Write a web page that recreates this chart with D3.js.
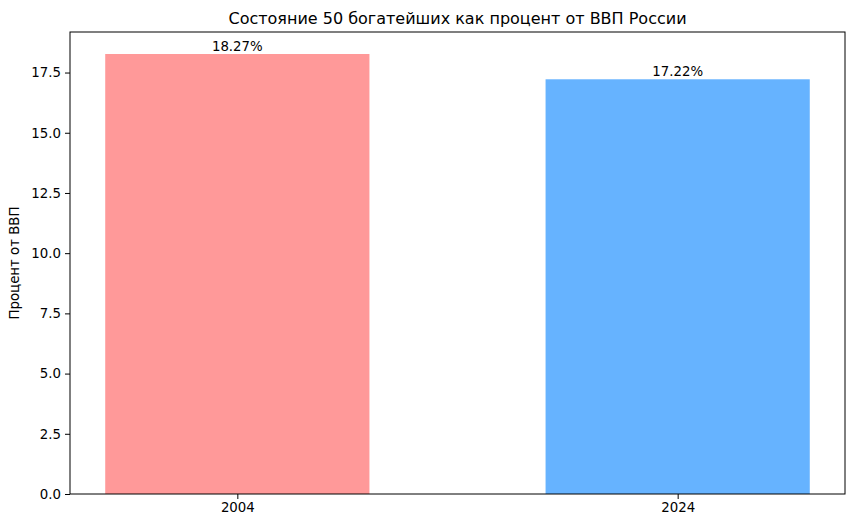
<!DOCTYPE html>
<html><head><meta charset="utf-8">
<script src="https://cdn.jsdelivr.net/npm/d3@7"></script>
<style>body{margin:0;background:#fff}text{font-family:"DejaVu Sans",sans-serif}</style>
</head><body>
<svg id="c" width="855" height="528"></svg>
<script>
const categories = ["2004", "2024"];
const values = [18.27, 17.22];
const colors = ["#ff9999", "#66b3ff"];
const yTicks = [0, 2.5, 5, 7.5, 10, 12.5, 15, 17.5];
const title = "Состояние 50 богатейших как процент от ВВП России";
const yLabel = "Процент от ВВП";

const svg = d3.select("#c");
const L = 70, R = 845, T = 32, B = 494;
const xIdx = d3.scaleLinear().domain([-0.38, 1.38]).range([L, R]);
const y = d3.scaleLinear().domain([0, 18.27 * 1.05]).range([B, T]);
const bw = 0.6;

svg.selectAll("rect.bar").data(values).join("rect")
  .attr("x", (d, i) => xIdx(i - bw / 2))
  .attr("width", (d, i) => xIdx(i + bw / 2) - xIdx(i - bw / 2))
  .attr("y", d => y(d)).attr("height", d => B - y(d))
  .attr("fill", (d, i) => colors[i]);

svg.selectAll("text.lbl").data(values).join("text")
  .attr("x", (d, i) => xIdx(i)).attr("y", d => y(d) - 3)
  .attr("text-anchor", "middle").attr("font-size", 13.33).attr("fill", "#000")
  .text(d => d.toFixed(2) + "%");

const yAxis = d3.axisLeft(y).tickValues(yTicks).tickFormat(d3.format(".1f")).tickSize(5).tickPadding(4);
const gy = svg.append("g").attr("transform", `translate(${L},0)`).call(yAxis);
gy.select(".domain").remove();
gy.selectAll("text").attr("font-size", 13.33).attr("fill", "#000").style("font-family", "DejaVu Sans");

const xAxis = d3.axisBottom(xIdx).tickValues([0, 1]).tickFormat(i => categories[i]).tickSize(5).tickPadding(4);
const gx = svg.append("g").attr("transform", `translate(0,${B})`).call(xAxis);
gx.select(".domain").remove();
gx.selectAll("text").attr("font-size", 13.33).attr("fill", "#000").style("font-family", "DejaVu Sans");

svg.append("rect").attr("x", L).attr("y", T).attr("width", R - L).attr("height", B - T)
  .attr("fill", "none").attr("stroke", "#000").attr("stroke-width", 1);

svg.append("text").attr("x", (L + R) / 2).attr("y", 24).attr("text-anchor", "middle")
  .attr("font-size", 16).text(title);

svg.append("text").attr("transform", `translate(19,${(T + B) / 2}) rotate(-90)`)
  .attr("text-anchor", "middle").attr("font-size", 13.33).text(yLabel);
</script>
</body></html>
